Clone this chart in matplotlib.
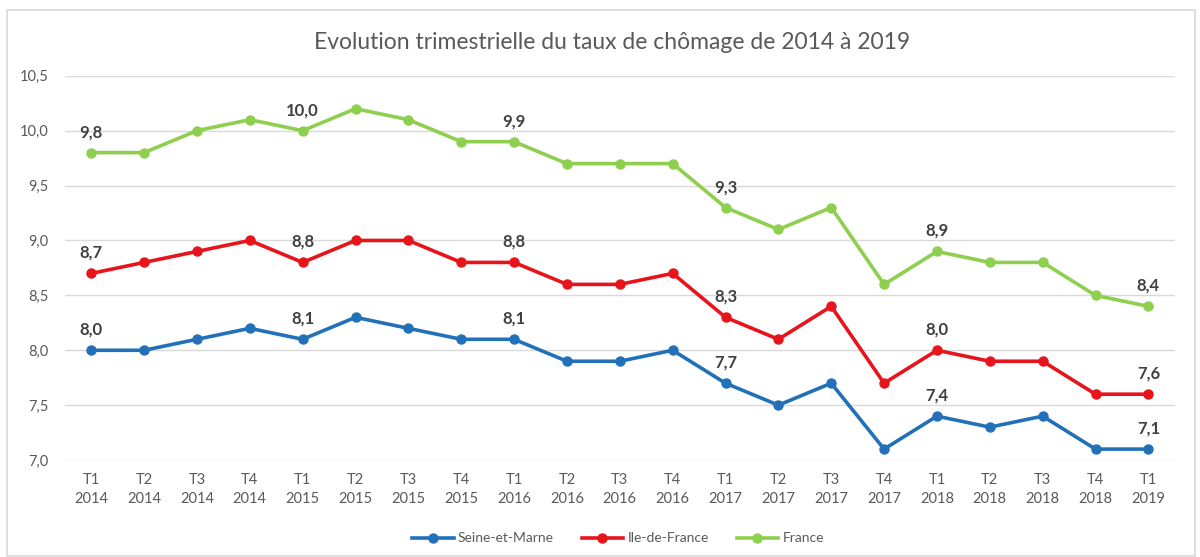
import matplotlib.pyplot as plt
from matplotlib.patches import Rectangle

# Trimestres T1 2014 -> T1 2019
quarters = ["T1", "T2", "T3", "T4"] * 5 + ["T1"]
years = [str(y) for y in range(2014, 2019) for _ in range(4)] + ["2019"]
labels = [f"{q}\n{y}" for q, y in zip(quarters, years)]

seine_et_marne = [8.0, 8.0, 8.1, 8.2, 8.1, 8.3, 8.2, 8.1, 8.1, 7.9, 7.9, 8.0,
                  7.7, 7.5, 7.7, 7.1, 7.4, 7.3, 7.4, 7.1, 7.1]
ile_de_france = [8.7, 8.8, 8.9, 9.0, 8.8, 9.0, 9.0, 8.8, 8.8, 8.6, 8.6, 8.7,
                 8.3, 8.1, 8.4, 7.7, 8.0, 7.9, 7.9, 7.6, 7.6]
france = [9.8, 9.8, 10.0, 10.1, 10.0, 10.2, 10.1, 9.9, 9.9, 9.7, 9.7, 9.7,
          9.3, 9.1, 9.3, 8.6, 8.9, 8.8, 8.8, 8.5, 8.4]

# points avec étiquette (T1 de chaque année)
labelled = [0, 4, 8, 12, 16, 20]

plt.rcParams["font.family"] = ["Lato", "DejaVu Sans"]

fig = plt.figure(figsize=(12, 5.57), dpi=100)
ax = fig.add_axes([0.054, 0.174, 0.925, 0.69])

x = list(range(len(labels)))
series = [
    ("Seine-et-Marne", seine_et_marne, "#2271b8"),
    ("Ile-de-France", ile_de_france, "#e8141c"),
    ("France", france, "#8fcf4f"),
]
for name, vals, color in series:
    ax.plot(x, vals, color=color, lw=2.6, marker="o", ms=6.5, label=name)
    for i in labelled:
        ax.annotate(f"{vals[i]:.1f}".replace(".", ","), (i, vals[i]),
                    xytext=(0, 9), textcoords="offset points",
                    ha="center", va="bottom", fontsize=12, fontweight="bold",
                    color="#404040")

ax.set_xlim(-0.5, len(labels) - 0.5)
ax.set_ylim(7.0, 10.5)
ax.set_yticks([7.0, 7.5, 8.0, 8.5, 9.0, 9.5, 10.0, 10.5])
ax.set_yticklabels([f"{v:.1f}".replace(".", ",") for v in ax.get_yticks()])
ax.set_xticks(x)
ax.set_xticklabels(labels, linespacing=1.5)
ax.tick_params(length=0, labelsize=10.5, colors="#595959")
ax.tick_params(axis="x", pad=9)
ax.tick_params(axis="y", pad=12)
ax.grid(axis="y", color="#d9d9d9", lw=1)
ax.set_axisbelow(True)
for s in ax.spines.values():
    s.set_visible(False)

fig.text(0.51, 0.924, "Evolution trimestrielle du taux de chômage de 2014 à 2019",
         ha="center", va="center", fontsize=16.5, color="#595959")

fig.legend(loc="lower center", bbox_to_anchor=(0.515, 0.0), ncol=3, frameon=False,
           fontsize=10, labelcolor="#595959", handlelength=3, columnspacing=2,
           handletextpad=0.3)

fig.patches.append(Rectangle((0.006, 0.002), 0.99, 0.98, transform=fig.transFigure,
                             fill=False, ec="#d9d9d9", lw=1.2))

fig.savefig("out.png", dpi=100)
